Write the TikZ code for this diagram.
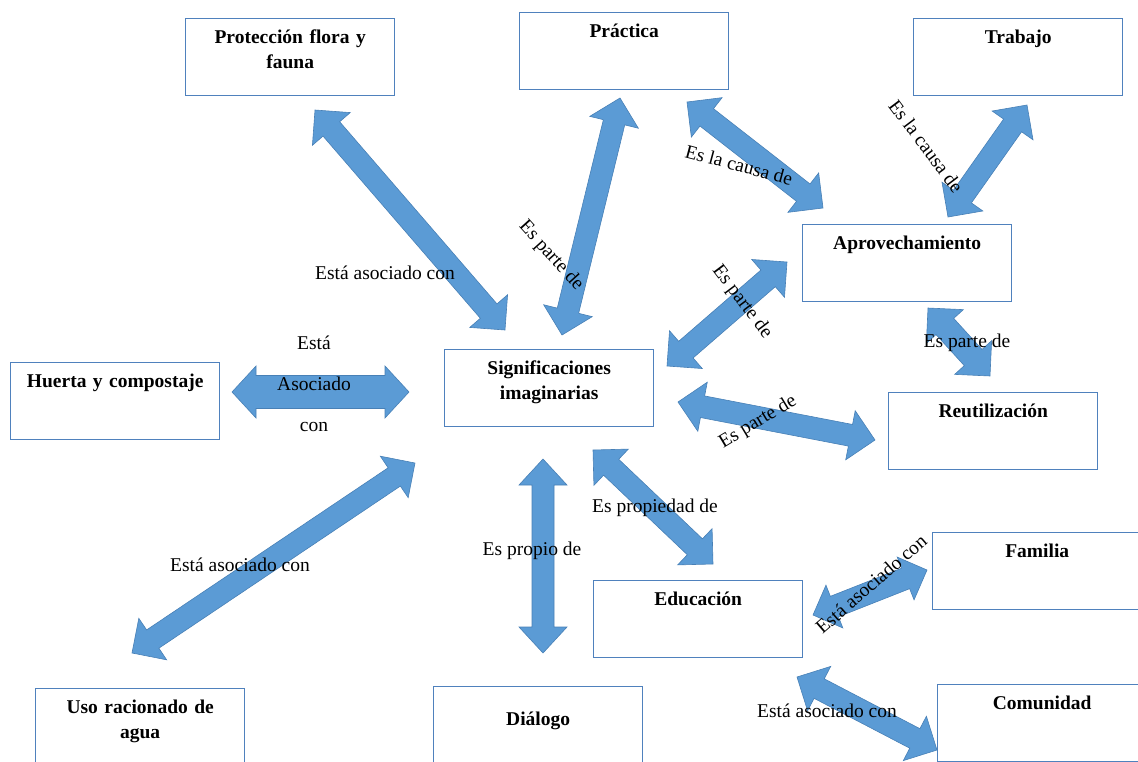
\documentclass[tikz,border=0pt]{standalone}
\usepackage{fontspec}
\setmainfont{Liberation Serif}
\usetikzlibrary{calc}

\definecolor{bordecaja}{RGB}{79,129,189}
\definecolor{azulflecha}{RGB}{91,155,213}
\definecolor{bordeflecha}{RGB}{72,128,182}

\tikzset{
  caja/.style={draw=bordecaja, line width=1.4, fill=white, anchor=north west,
    inner xsep=5, inner ysep=6, text width=199, align=center,
    text height=19, text depth=46, font=\fontsize{19.5}{25}\selectfont\bfseries},
  etiqueta/.style={font=\fontsize{19.5}{23}\selectfont, inner sep=1},
  flechabloque/.style={fill=azulflecha, draw=bordeflecha, line width=0.6, line join=miter}
}

% flecha doble de bloque: puntas #1 y #2, medio cuerpo #3, media cabeza #4, largo cabeza #5
\newcommand{\flecha}[5]{%
  \coordinate (fh1) at ($(#1)!#5!(#2)$);
  \coordinate (fh2) at ($(#2)!#5!(#1)$);
  \draw[flechabloque] (#1) -- ($(fh1)!#4!90:(#2)$) -- ($(fh1)!#3!90:(#2)$)
    -- ($(fh2)!#3!-90:(#1)$) -- ($(fh2)!#4!-90:(#1)$) -- (#2)
    -- ($(fh2)!#4!90:(#1)$) -- ($(fh2)!#3!90:(#1)$)
    -- ($(fh1)!#3!-90:(#2)$) -- ($(fh1)!#4!-90:(#2)$) -- cycle;
}

\begin{document}
\begin{tikzpicture}[x=1pt,y=-1pt]
\useasboundingbox (0,0) rectangle (1138,761);
\clip (0,0) rectangle (1138,761);

% cajas
\node[caja] (prot) at (185,18) {Protección flora y\\fauna};
\node[caja] (prac) at (519,12) {Práctica};
\node[caja] (trab) at (913,18) {Trabajo};
\node[caja] (aprov) at (802,224) {Aprovechamiento};
\node[caja] (huerta) at (10,362) {Huerta y compostaje};
\node[caja] (signif) at (444,349) {Significaciones\\imaginarias};
\node[caja] (reut) at (888,392) {Reutilización};
\node[caja] (fam) at (932,532) {Familia};
\node[caja] (edu) at (593,580) {Educación};
\node[caja] (com) at (937,684) {Comunidad};
\node[caja] (uso) at (35,688) {Uso racionado de\\agua};
\node[caja, text height=33, text depth=32] (dial) at (433,686) {Diálogo};

% puntas de las flechas
\coordinate (f1a) at (315,110);  \coordinate (f1b) at (505,330);
\coordinate (f2a) at (620,98);   \coordinate (f2b) at (562,335);
\coordinate (f3a) at (687,102);  \coordinate (f3b) at (823,208);
\coordinate (f4a) at (1027,105); \coordinate (f4b) at (948,217);
\coordinate (f5a) at (787,262);  \coordinate (f5b) at (667,366);
\coordinate (f6a) at (928,308);  \coordinate (f6b) at (990,376);
\coordinate (f7a) at (678,402);  \coordinate (f7b) at (875,440);
\coordinate (f8a) at (232,392);  \coordinate (f8b) at (409,392);
\coordinate (f9a) at (415,463);  \coordinate (f9b) at (132,653);
\coordinate (f10a) at (543,459); \coordinate (f10b) at (543,653);
\coordinate (f11a) at (593,450); \coordinate (f11b) at (713,564);
\coordinate (f12a) at (927,570); \coordinate (f12b) at (813,615);
\coordinate (f13a) at (797,677); \coordinate (f13b) at (937,750);

\flecha{f1a}{f1b}{11pt}{25pt}{25pt}
\flecha{f2a}{f2b}{11pt}{25pt}{25pt}
\flecha{f3a}{f3b}{11pt}{25pt}{25pt}
\flecha{f4a}{f4b}{11pt}{25pt}{25pt}
\flecha{f5a}{f5b}{11pt}{25pt}{25pt}
\flecha{f6a}{f6b}{12pt}{25pt}{25pt}
\flecha{f7a}{f7b}{11pt}{25pt}{25pt}
\flecha{f8a}{f8b}{16.5pt}{26pt}{24pt}
\flecha{f9a}{f9b}{11pt}{25pt}{25pt}
\flecha{f10a}{f10b}{11pt}{24pt}{26pt}
\flecha{f11a}{f11b}{11pt}{25pt}{25pt}
\flecha{f12a}{f12b}{11pt}{23pt}{23pt}
\flecha{f13a}{f13b}{11pt}{25pt}{25pt}

% etiquetas
\node[etiqueta] (t1) at (385,273) {Está asociado con};
\node[etiqueta, rotate=-48] (t2) at (551,256) {Es parte de};
\node[etiqueta, rotate=-15] (t3) at (739,165) {Es la causa de};
\node[etiqueta, rotate=-53] (t4) at (926,146) {Es la causa de};
\node[etiqueta, rotate=-53] (t5) at (742,302) {Es parte de};
\node[etiqueta] (t6) at (967,343) {Es parte de};
\node[etiqueta, rotate=31] (t7) at (758,422) {Es parte de};
\node[etiqueta, align=center, font=\fontsize{19.5}{41}\selectfont] (t8) at (314,384) {Está\\Asociado\\con};
\node[etiqueta] (t9) at (240,565) {Está asociado con};
\node[etiqueta] (t10) at (532,551) {Es propio de};
\node[etiqueta] (t11) at (655,508) {Es propiedad de};
\node[etiqueta, rotate=41] (t12) at (871,584) {Está asociado con};
\node[etiqueta] (t13) at (827,711) {Está asociado con};
\end{tikzpicture}
\end{document}
